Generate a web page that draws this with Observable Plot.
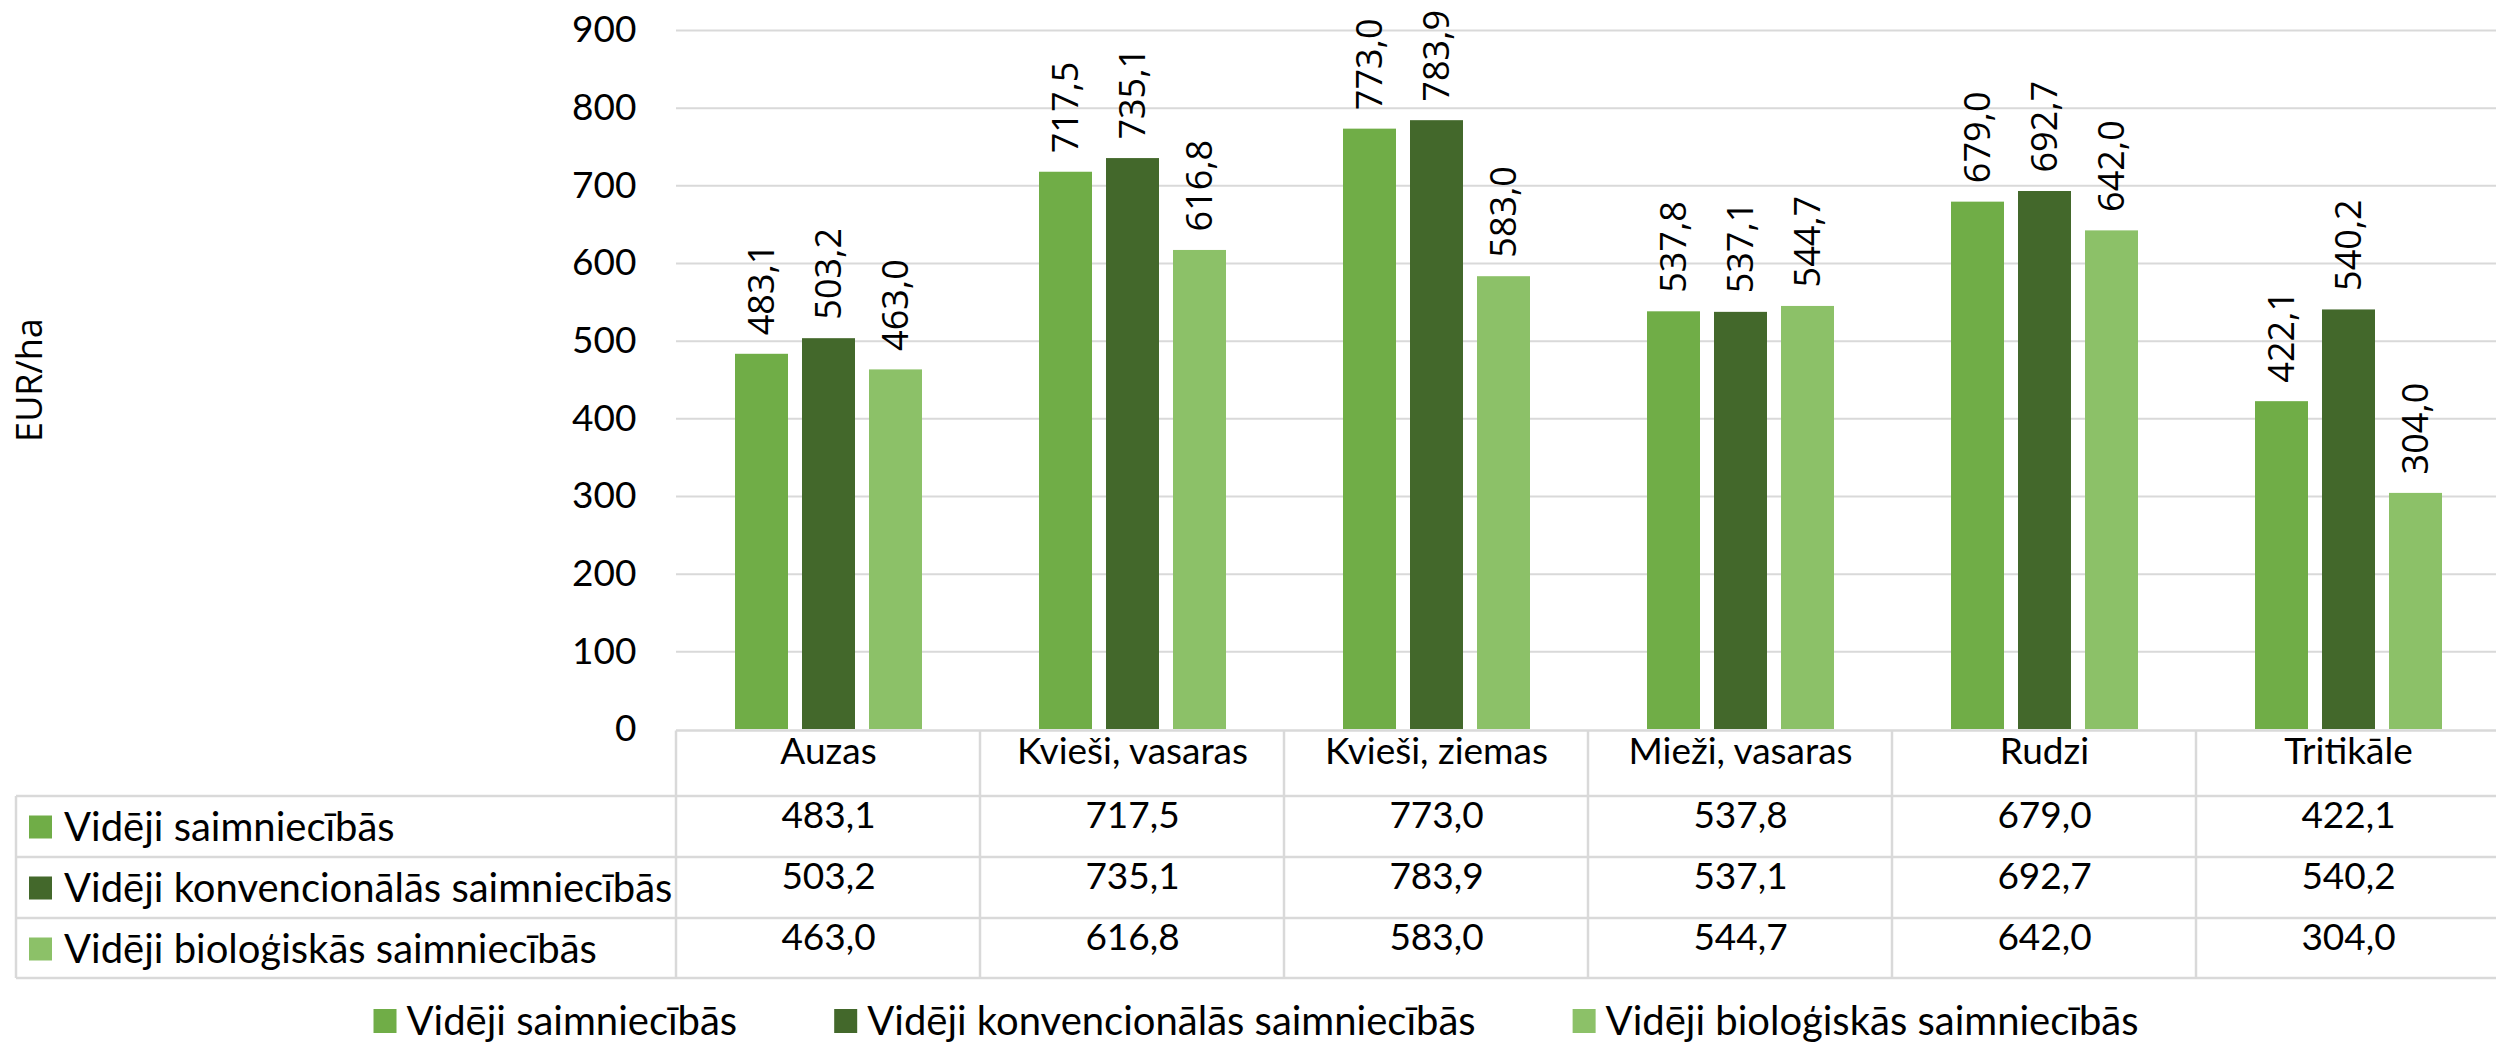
<!DOCTYPE html>
<html><head><meta charset="utf-8">
<script src="https://cdn.jsdelivr.net/npm/d3@7"></script>
<script src="https://cdn.jsdelivr.net/npm/@observablehq/plot@0.6"></script>
<style>body{margin:0;background:#fff;} svg{display:block}</style>
</head><body><div id="chart"></div>
<script>
const categories = ["Auzas", "Kvieši, vasaras", "Kvieši, ziemas", "Mieži, vasaras", "Rudzi", "Tritikāle"];
const seriesNames = ["Vidēji saimniecībās", "Vidēji konvencionālās saimniecībās", "Vidēji bioloģiskās saimniecībās"];
const avgAll = [483.1, 717.5, 773.0, 537.8, 679.0, 422.1];
const avgConventional = [503.2, 735.1, 783.9, 537.1, 692.7, 540.2];
const avgOrganic = [463.0, 616.8, 583.0, 544.7, 642.0, 304.0];
const yTicks = [0, 100, 200, 300, 400, 500, 600, 700, 800, 900];
const colors = ["#70AD47", "#43682B", "#8CC168"];
const yLabel = "EUR/ha";

const seriesValues = [avgAll, avgConventional, avgOrganic];
const data = categories.flatMap((c, i) => seriesValues.map((arr, j) => ({category: c, series: seriesNames[j], row: j, value: arr[i]})));
const fmt = v => d3.format(".1f")(v).replace(".", ",");

const W = 2496, H = 1046, mL = 676, mR = -4, mT = 30, mB = 317;
const base = H - mB;            // y pixel of 0
const headerDy = 34;
const rowDy = [98, 159, 220];
const TXT = "Lato, 'Open Sans', sans-serif";
const LBL = "'Open Sans', sans-serif";
const tableFont = 37;

const marks = [
  Plot.ruleY(yTicks.filter(t => t > 0), {stroke: "#D9D9D9", strokeWidth: 2}),
  Plot.barY(data, {fx: "category", x: "series", y: "value", fill: "series"}),
  Plot.text(data, {fx: "category", x: "series", y: "value", text: d => fmt(d.value), rotate: -90, textAnchor: "start", dy: -19, fontSize: 36, fontFamily: LBL, fill: "#000"}),
  Plot.text(categories, {fx: d => d, frameAnchor: "bottom", dy: headerDy, text: d => d, fontSize: tableFont, fontFamily: TXT, fill: "#000"})
];
seriesNames.forEach((s, j) => {
  marks.push(Plot.text(data.filter(d => d.row === j), {fx: "category", frameAnchor: "bottom", dy: rowDy[j], text: d => fmt(d.value), fontSize: tableFont, fontFamily: TXT, fill: "#000"}));
});

const chart = Plot.plot({
  width: W, height: H,
  marginLeft: mL, marginRight: mR, marginTop: mT, marginBottom: mB,
  style: {fontSize: "37px", fontFamily: TXT, color: "#000", background: "#fff"},
  fx: {domain: categories, padding: 0, axis: null, label: null},
  x: {domain: seriesNames, paddingInner: 0.215, paddingOuter: 0.85, axis: null, label: null},
  y: {domain: [0, 900], ticks: yTicks, tickSize: 0, tickPadding: 40, label: null},
  color: {domain: seriesNames, range: colors},
  marks
});
document.getElementById("chart").appendChild(chart);

// table grid, row labels, y label and legend
const svg = d3.select(chart);
const g = svg.append("g").attr("text-anchor", "start");
const colW = (W - mL - mR) / categories.length;
const lineC = "#D9D9D9", lw = 2.5;
const rowLines = [796, 857, 918, 978];
g.append("line").attr("x1", mL).attr("x2", W).attr("y1", base + 1.5).attr("y2", base + 1.5).attr("stroke", lineC).attr("stroke-width", lw);
rowLines.forEach(y => g.append("line").attr("x1", 16).attr("x2", W).attr("y1", y).attr("y2", y).attr("stroke", lineC).attr("stroke-width", lw));
g.append("line").attr("x1", 16).attr("x2", 16).attr("y1", rowLines[0]).attr("y2", rowLines[3]).attr("stroke", lineC).attr("stroke-width", lw);
for (let k = 0; k < categories.length; k++) {
  const x = mL + k * colW;
  g.append("line").attr("x1", x).attr("x2", x).attr("y1", base + 1.5).attr("y2", rowLines[3]).attr("stroke", lineC).attr("stroke-width", lw);
}
seriesNames.forEach((s, j) => {
  const cy = base + rowDy[j];
  g.append("rect").attr("x", 29).attr("y", cy - 11.5).attr("width", 23).attr("height", 23).attr("fill", colors[j]);
  g.append("text").attr("x", 64).attr("y", cy).attr("dy", "0.35em").attr("text-anchor", "start").attr("font-size", 40).attr("font-family", TXT).attr("fill", "#000").text(s);
});
g.append("text").attr("transform", "translate(29,380) rotate(-90)").attr("text-anchor", "middle").attr("dy", "0.35em")
  .attr("font-size", 36).attr("font-family", LBL).attr("fill", "#000").text(yLabel);

// bottom legend
const lg = g.append("g");
let cx = 0;
seriesNames.forEach((s, j) => {
  const it = lg.append("g");
  it.append("rect").attr("x", 0).attr("y", -12).attr("width", 23).attr("height", 24).attr("fill", colors[j]);
  const t = it.append("text").attr("x", 33).attr("dy", "0.35em").attr("text-anchor", "start").attr("font-size", 40).attr("font-family", TXT).attr("fill", "#000").text(s);
  const w = 33 + t.node().getComputedTextLength();
  it.attr("transform", `translate(${cx},0)`);
  cx += w + 97;
});
const totalW = cx - 97;
lg.attr("transform", `translate(${1256 - totalW / 2},1021)`);
</script></body></html>
